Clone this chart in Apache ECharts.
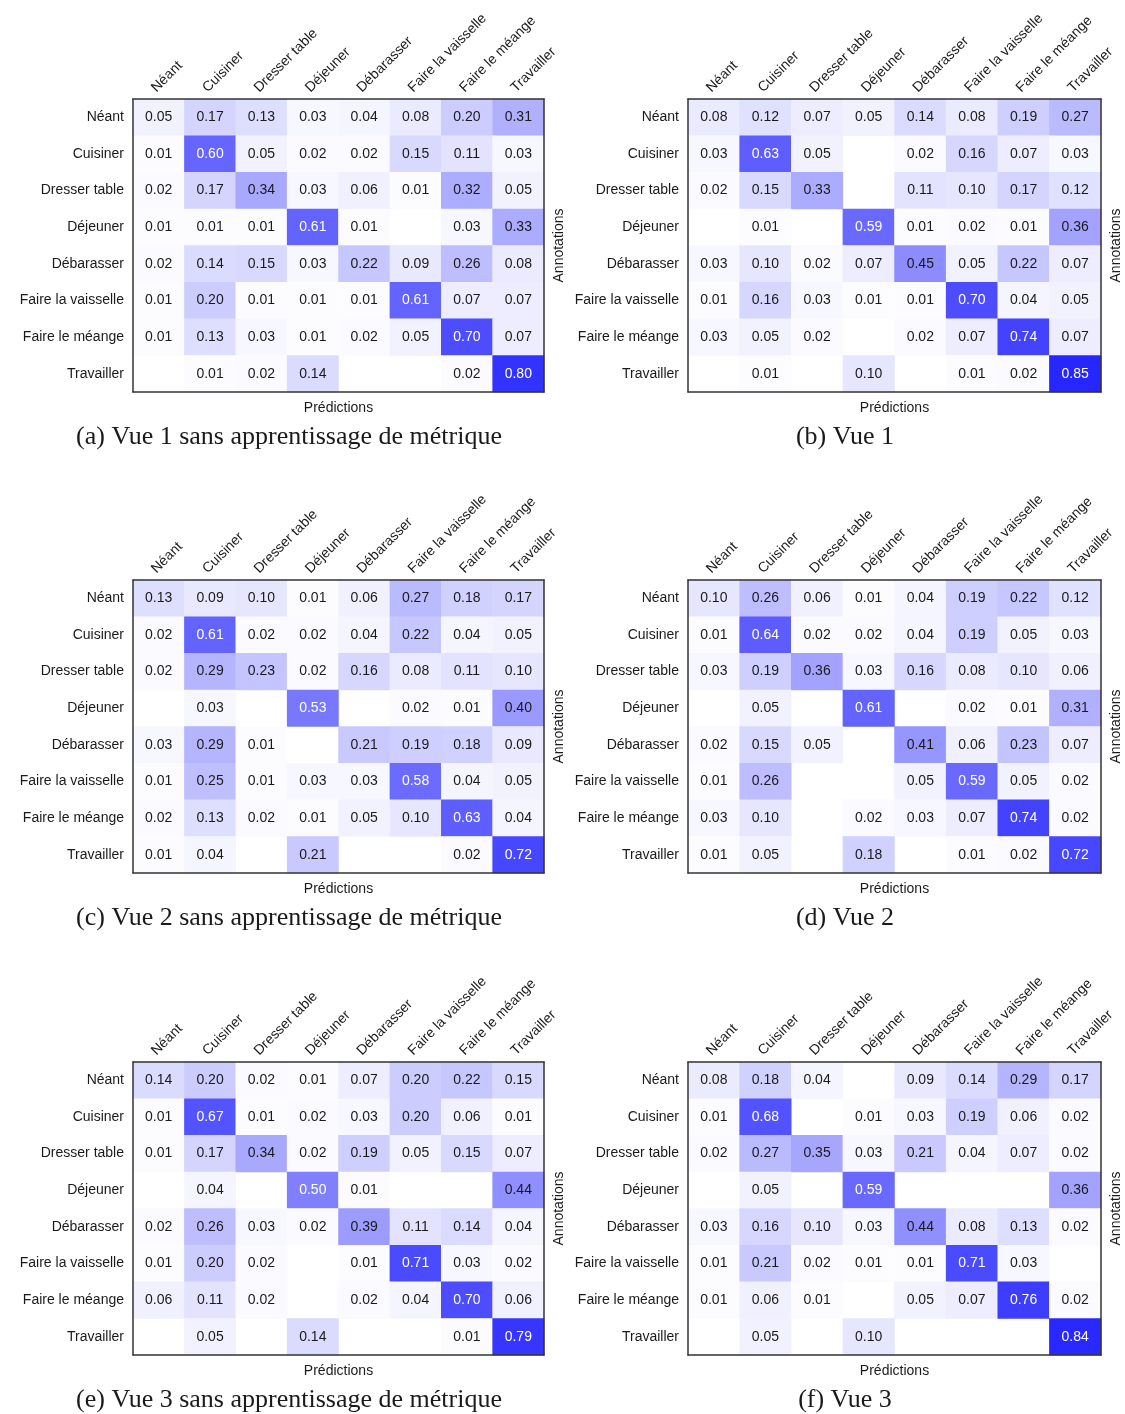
<!DOCTYPE html>
<html>
<head>
<meta charset="utf-8">
<script src="https://cdn.jsdelivr.net/npm/echarts@6/dist/echarts.min.js"></script>
<style>
html,body{margin:0;padding:0;background:#fff;overflow:hidden;}
#chart{width:1125px;height:1414px;}
</style>
</head>
<body>
<div id="chart"></div>
<script>
const categories = ['Néant','Cuisiner','Dresser table','Déjeuner','Débarasser','Faire la vaisselle','Faire le méange','Travailler'];
const rowLabels = ['Néant','Cuisiner','Dresser table','Déjeuner','Débarasser','Faire la vaisselle','Faire le méange','Travailler'];

const vue1Sans = [
  [0.05,0.17,0.13,0.03,0.04,0.08,0.20,0.31],
  [0.01,0.60,0.05,0.02,0.02,0.15,0.11,0.03],
  [0.02,0.17,0.34,0.03,0.06,0.01,0.32,0.05],
  [0.01,0.01,0.01,0.61,0.01,null,0.03,0.33],
  [0.02,0.14,0.15,0.03,0.22,0.09,0.26,0.08],
  [0.01,0.20,0.01,0.01,0.01,0.61,0.07,0.07],
  [0.01,0.13,0.03,0.01,0.02,0.05,0.70,0.07],
  [null,0.01,0.02,0.14,null,null,0.02,0.80]
];
const vue1 = [
  [0.08,0.12,0.07,0.05,0.14,0.08,0.19,0.27],
  [0.03,0.63,0.05,null,0.02,0.16,0.07,0.03],
  [0.02,0.15,0.33,null,0.11,0.10,0.17,0.12],
  [null,0.01,null,0.59,0.01,0.02,0.01,0.36],
  [0.03,0.10,0.02,0.07,0.45,0.05,0.22,0.07],
  [0.01,0.16,0.03,0.01,0.01,0.70,0.04,0.05],
  [0.03,0.05,0.02,null,0.02,0.07,0.74,0.07],
  [null,0.01,null,0.10,null,0.01,0.02,0.85]
];
const vue2Sans = [
  [0.13,0.09,0.10,0.01,0.06,0.27,0.18,0.17],
  [0.02,0.61,0.02,0.02,0.04,0.22,0.04,0.05],
  [0.02,0.29,0.23,0.02,0.16,0.08,0.11,0.10],
  [null,0.03,null,0.53,null,0.02,0.01,0.40],
  [0.03,0.29,0.01,null,0.21,0.19,0.18,0.09],
  [0.01,0.25,0.01,0.03,0.03,0.58,0.04,0.05],
  [0.02,0.13,0.02,0.01,0.05,0.10,0.63,0.04],
  [0.01,0.04,null,0.21,null,null,0.02,0.72]
];
const vue2 = [
  [0.10,0.26,0.06,0.01,0.04,0.19,0.22,0.12],
  [0.01,0.64,0.02,0.02,0.04,0.19,0.05,0.03],
  [0.03,0.19,0.36,0.03,0.16,0.08,0.10,0.06],
  [null,0.05,null,0.61,null,0.02,0.01,0.31],
  [0.02,0.15,0.05,null,0.41,0.06,0.23,0.07],
  [0.01,0.26,null,null,0.05,0.59,0.05,0.02],
  [0.03,0.10,null,0.02,0.03,0.07,0.74,0.02],
  [0.01,0.05,null,0.18,null,0.01,0.02,0.72]
];
const vue3Sans = [
  [0.14,0.20,0.02,0.01,0.07,0.20,0.22,0.15],
  [0.01,0.67,0.01,0.02,0.03,0.20,0.06,0.01],
  [0.01,0.17,0.34,0.02,0.19,0.05,0.15,0.07],
  [null,0.04,null,0.50,0.01,null,null,0.44],
  [0.02,0.26,0.03,0.02,0.39,0.11,0.14,0.04],
  [0.01,0.20,0.02,null,0.01,0.71,0.03,0.02],
  [0.06,0.11,0.02,null,0.02,0.04,0.70,0.06],
  [null,0.05,null,0.14,null,null,0.01,0.79]
];
const vue3 = [
  [0.08,0.18,0.04,null,0.09,0.14,0.29,0.17],
  [0.01,0.68,null,0.01,0.03,0.19,0.06,0.02],
  [0.02,0.27,0.35,0.03,0.21,0.04,0.07,0.02],
  [null,0.05,null,0.59,null,null,null,0.36],
  [0.03,0.16,0.10,0.03,0.44,0.08,0.13,0.02],
  [0.01,0.21,0.02,0.01,0.01,0.71,0.03,null],
  [0.01,0.06,0.01,null,0.05,0.07,0.76,0.02],
  [null,0.05,null,0.10,null,null,null,0.84]
];
const captions = [
  '(a) Vue 1 sans apprentissage de métrique',
  '(b) Vue 1',
  '(c) Vue 2 sans apprentissage de métrique',
  '(d) Vue 2',
  '(e) Vue 3 sans apprentissage de métrique',
  '(f) Vue 3'
];
const matrices = [vue1Sans, vue1, vue2Sans, vue2, vue3Sans, vue3];

const SANS = 'Liberation Sans, Arial, sans-serif';
const SERIF = 'Liberation Serif, Times New Roman, serif';
const TXT = '#1a1a1a';
const LINE = '#333';

const lefts = [133, 688];
const widths = [411, 413];
const tops = [99, 580, 1062];
const H = 293;
const capCenters = [284, 840];

const grids = [], xAxes = [], yAxes = [], series = [], titles = [];
for (let i = 0; i < 6; i++) {
  const c = i % 2, r = Math.floor(i / 2);
  grids.push({left: lefts[c], top: tops[r], width: widths[c], height: H, containLabel: false});
  xAxes.push({
    type: 'category', data: categories, gridIndex: i, position: 'top', z: 10,
    axisLine: {show: true, lineStyle: {color: LINE, width: 1.5}},
    axisTick: {show: false}, splitLine: {show: false},
    axisLabel: {rotate: -45, margin: 4, verticalAlign: 'bottom', fontSize: 14, color: TXT, fontFamily: SANS, interval: 0}
  });
  yAxes.push({
    type: 'category', data: rowLabels, gridIndex: i, inverse: true, z: 10,
    axisLine: {show: true, lineStyle: {color: LINE, width: 1.5}},
    axisTick: {show: false}, splitLine: {show: false},
    axisLabel: {margin: 9, fontSize: 14, color: TXT, fontFamily: SANS, interval: 0}
  });
  const data = [];
  matrices[i].forEach((row, yi) => row.forEach((v, xi) => {
    if (v === null) return;
    data.push({value: [xi, yi, v], label: {color: v >= 0.5 ? '#ffffff' : TXT}});
  }));
  series.push({
    type: 'heatmap', xAxisIndex: i, yAxisIndex: i, data: data,
    label: {show: true, fontSize: 14, fontFamily: SANS, formatter: p => p.value[2].toFixed(2)},
    itemStyle: {borderWidth: 0},
    emphasis: {disabled: true}
  });
  titles.push({
    text: captions[i], left: capCenters[c], top: tops[r] + H + 27, textAlign: 'center',
    textStyle: {fontFamily: SERIF, fontSize: 26, fontWeight: 'normal', color: TXT}
  });
}
for (let i = 0; i < 6; i++) {
  xAxes.push({
    type: 'category', data: categories, gridIndex: i, position: 'bottom', z: 10,
    name: 'Prédictions', nameLocation: 'middle', nameGap: 9,
    nameTextStyle: {fontSize: 14, color: TXT, fontFamily: SANS},
    axisLine: {show: true, lineStyle: {color: LINE, width: 1.5}},
    axisTick: {show: false}, axisLabel: {show: false}, splitLine: {show: false}
  });
  yAxes.push({
    type: 'category', data: rowLabels, gridIndex: i, position: 'right', inverse: true, z: 10,
    name: 'Annotations', nameLocation: 'middle', nameGap: 8, nameRotate: 90,
    nameTextStyle: {fontSize: 14, color: TXT, fontFamily: SANS},
    axisLine: {show: true, lineStyle: {color: LINE, width: 1.5}},
    axisTick: {show: false}, axisLabel: {show: false}, splitLine: {show: false}
  });
}

const chart = echarts.init(document.getElementById('chart'), null, {renderer: 'canvas'});
chart.setOption({
  animation: false,
  backgroundColor: '#ffffff',
  title: titles,
  grid: grids,
  xAxis: xAxes,
  yAxis: yAxes,
  visualMap: {
    type: 'continuous', min: 0, max: 1, show: false,
    seriesIndex: [0, 1, 2, 3, 4, 5], dimension: 2,
    inRange: {color: ['#ffffff', '#0000ff']}
  },
  series: series
});
</script>
</body>
</html>
